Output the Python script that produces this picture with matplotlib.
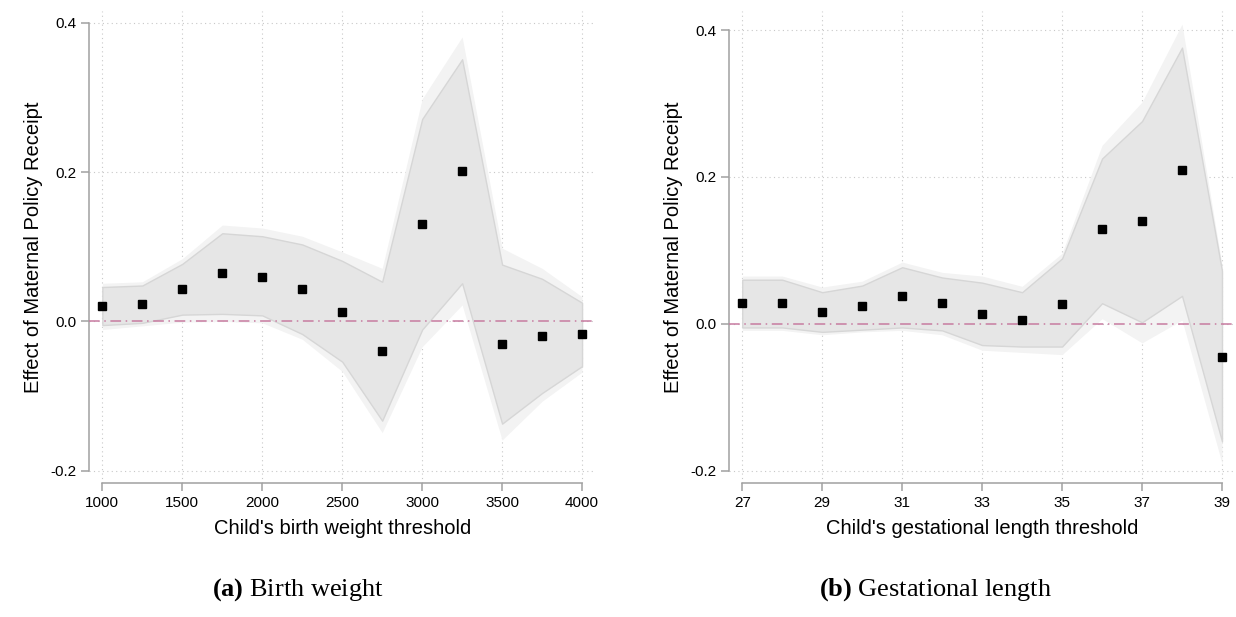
import numpy as np
import matplotlib
matplotlib.use("Agg")
import matplotlib.pyplot as plt

plt.rcParams['font.family'] = ['Liberation Sans', 'DejaVu Sans']
plt.rcParams['mathtext.fontset'] = 'custom'
plt.rcParams['mathtext.rm'] = 'Liberation Serif'
plt.rcParams['mathtext.bf'] = 'Liberation Serif:bold'

# panel (a): birth weight threshold
bw_x = [1000, 1250, 1500, 1750, 2000, 2250, 2500, 2750, 3000, 3250, 3500, 3750, 4000]
bw_est = [0.020, 0.023, 0.043, 0.065, 0.060, 0.044, 0.012, -0.040, 0.131, 0.201, -0.031, -0.020, -0.017]
bw_hi95 = [0.046, 0.048, 0.077, 0.118, 0.114, 0.103, 0.081, 0.053, 0.271, 0.351, 0.076, 0.057, 0.025]
bw_lo95 = [-0.005, -0.002, 0.009, 0.010, 0.008, -0.017, -0.054, -0.133, -0.011, 0.051, -0.137, -0.096, -0.060]
bw_hi99 = [0.051, 0.053, 0.084, 0.129, 0.125, 0.114, 0.093, 0.071, 0.298, 0.381, 0.098, 0.071, 0.033]
bw_lo99 = [-0.011, -0.006, -0.001, 0.000, -0.002, -0.024, -0.067, -0.149, -0.034, 0.022, -0.159, -0.107, -0.068]

# panel (b): gestational length threshold
gl_x = [27, 28, 29, 30, 31, 32, 33, 34, 35, 36, 37, 38, 39]
gl_est = [0.028, 0.028, 0.016, 0.024, 0.038, 0.028, 0.013, 0.005, 0.027, 0.129, 0.140, 0.209, -0.045]
gl_hi95 = [0.060, 0.060, 0.043, 0.052, 0.077, 0.063, 0.056, 0.043, 0.089, 0.225, 0.276, 0.376, 0.072]
gl_lo95 = [-0.005, -0.005, -0.011, -0.008, -0.005, -0.009, -0.029, -0.031, -0.031, 0.028, 0.002, 0.038, -0.160]
gl_hi99 = [0.065, 0.065, 0.050, 0.058, 0.084, 0.070, 0.065, 0.051, 0.096, 0.243, 0.302, 0.408, 0.080]
gl_lo99 = [-0.009, -0.009, -0.015, -0.011, -0.009, -0.015, -0.036, -0.039, -0.042, 0.007, -0.026, 0.005, -0.190]

y_ticks = [-0.2, 0.0, 0.2, 0.4]

fig = plt.figure(figsize=(12.36, 6.17), dpi=100)
ax1 = fig.add_axes([0.0723, 0.2167, 0.4091, 0.7655])
ax2 = fig.add_axes([0.5900, 0.2167, 0.4100, 0.7655])


def panel(ax, x, est, lo95, hi95, lo99, hi99, xticks, xlim, ylim, xlabel):
    ax.fill_between(x, lo99, hi99, color='#f3f3f3', lw=0, zorder=1)
    ax.fill_between(x, lo95, hi95, facecolor='#e6e6e6', edgecolor='#d6d6d6', lw=1, zorder=2)
    ax.axhline(0, color='#c77ba0', lw=1.1, dashes=(7, 3, 1, 3), zorder=3)
    ax.plot(x, est, 's', color='black', ms=6.3, zorder=4)

    ax.set_xlim(xlim)
    ax.set_ylim(ylim)
    ax.set_xticks(xticks)
    ax.set_yticks(y_ticks)
    ax.set_yticklabels(['%.1f' % v for v in y_ticks])
    ax.grid(True, ls=(0, (1, 3)), color='#c8c8c8', lw=0.8, zorder=0)
    ax.set_axisbelow(True)

    for s in ['top', 'right']:
        ax.spines[s].set_visible(False)
    ax.spines['left'].set_bounds(y_ticks[0], y_ticks[-1])
    ax.spines['bottom'].set_bounds(xticks[0], xticks[-1])
    for s in ['left', 'bottom']:
        ax.spines[s].set_color('#a0a0a0')
        ax.spines[s].set_linewidth(1.1)
    ax.tick_params(colors='#a0a0a0', labelcolor='black', length=6, width=1.1, labelsize=11)

    ax.set_xlabel(xlabel, fontsize=14.5, labelpad=6)
    ax.set_ylabel('Effect of Maternal Policy Receipt', fontsize=14.5, labelpad=5)


panel(ax1, bw_x, bw_est, bw_lo95, bw_hi95, bw_lo99, bw_hi99,
      [1000, 1500, 2000, 2500, 3000, 3500, 4000], (918.7, 4081), (-0.2169, 0.4157),
      "Child's birth weight threshold")
panel(ax2, gl_x, gl_est, gl_lo95, gl_hi95, gl_lo99, gl_hi99,
      [27, 29, 31, 33, 35, 37, 39], (26.675, 39.35), (-0.2172, 0.4259),
      "Child's gestational length threshold")

cap = dict(fontsize=19, family=['Liberation Serif', 'DejaVu Serif'], ha='center', va='center')
fig.text(0.241, 0.045, r'$\mathbf{(a)}$ Birth weight', **cap)
fig.text(0.757, 0.045, r'$\mathbf{(b)}$ Gestational length', **cap)

fig.savefig('out.png', dpi=100)
